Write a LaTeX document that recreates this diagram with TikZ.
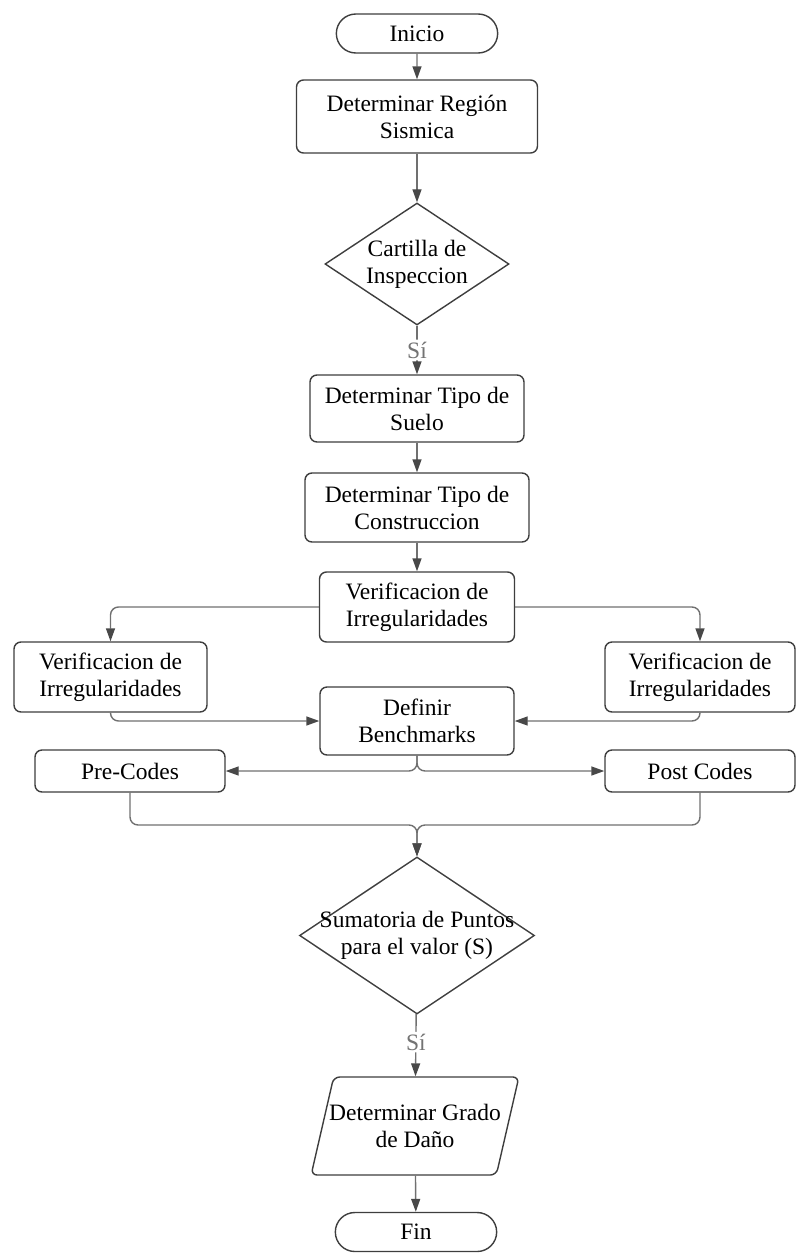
\documentclass[tikz,border=0pt]{standalone}
\usepackage{fontspec}
\setmainfont{Liberation Serif}
\usetikzlibrary{
  arrows.meta,
  positioning,
  shapes.geometric,
  shapes.misc
}
\definecolor{boxStroke}{RGB}{62,62,62}
\definecolor{lineGray}{RGB}{112,112,112}
\definecolor{headGray}{RGB}{72,72,72}
\colorlet{labelGray}{black!55}
\tikzset{
  arrow/.style={draw=lineGray, line width=1.4pt, rounded corners=8pt,
    -{Triangle[length=13pt,width=9pt,color=headGray]}},
  flowtext/.style={font=\fontsize{23.5}{27}\selectfont, align=center},
  terminal/.style={
    rounded rectangle,
    draw=boxStroke,
    fill=white,
    line width=1.4pt,
    minimum width=168pt,
    minimum height=39pt,
    flowtext
  },
  stepbox/.style={
    draw=boxStroke,
    fill=white,
    rounded corners=7pt,
    line width=1.4pt,
    inner sep=4pt,
    flowtext
  },
  decision/.style={
    diamond,
    draw=boxStroke,
    fill=white,
    line width=1.4pt,
    inner sep=0pt
  },
  iobox/.style={
    trapezium,
    trapezium left angle=77,
    trapezium right angle=103,
    draw=boxStroke,
    fill=white,
    rounded corners=6pt,
    line width=1.4pt,
    inner xsep=-13pt,
    inner ysep=22pt,
    flowtext
  },
  inside/.style={flowtext, inner sep=0pt},
  yes label/.style={font=\fontsize{23.5}{27}\selectfont, text=labelGray, fill=white, inner sep=2pt}
}

\begin{document}
\begin{tikzpicture}[x=1pt,y=-1pt]
  \useasboundingbox (0,0) rectangle (803,1253);

  \node[terminal] (inicio) at (417,33.5) {Inicio};
  \node[stepbox, minimum width=241pt, minimum height=73pt] (region) at (417,116.5) {Determinar Región\\Sismica};
  \node[decision, minimum width=184pt, minimum height=122pt,
    label={[inside]center:{Cartilla de\\Inspeccion}}] (cartilla) at (417,264) {};
  \node[stepbox, minimum width=214pt, minimum height=67pt] (suelo) at (417,408.5) {Determinar Tipo de\\Suelo};
  \node[stepbox, minimum width=224pt, minimum height=69pt] (construccion) at (417,507.5) {Determinar Tipo de\\Construccion};
  \node[stepbox, minimum width=195pt, minimum height=70pt] (verif) at (417,607) {Verificacion de\\Irregularidades};

  % ramas laterales
  \node[stepbox, minimum width=193pt, minimum height=70pt] (verifL) at (110.5,677) {Verificacion de\\Irregularidades};
  \node[stepbox, minimum width=190pt, minimum height=70pt] (verifR) at (700,677) {Verificacion de\\Irregularidades};
  \node[stepbox, minimum width=194pt, minimum height=68pt] (bench) at (417,721) {Definir\\Benchmarks};
  \node[stepbox, minimum width=190pt, minimum height=42pt] (pre) at (130,771) {Pre-Codes};
  \node[stepbox, minimum width=190pt, minimum height=42pt] (post) at (700,771) {Post Codes};
  \coordinate (join) at (417,825);

  \node[decision, minimum width=235pt, minimum height=157pt,
    label={[inside]center:{Sumatoria de Puntos\\para el valor (S)}}] (suma) at (417,935.5) {};
  \node[iobox, minimum height=98pt] (grado) at (415,1126) {Determinar Grado\\de Daño};
  \node[terminal] (fin) at (416,1232) {Fin};

  \draw[arrow] (inicio) -- (region);
  \draw[arrow] (region) -- (cartilla);
  \draw[arrow] (cartilla) -- node[yes label] {Sí} (suelo);
  \draw[arrow] (suelo) -- (construccion);
  \draw[arrow] (construccion) -- (verif);
  \draw[arrow] (verif.west) -| (verifL.north);
  \draw[arrow] (verif.east) -| (verifR.north);
  \draw[arrow] (verifL.south) |- (bench.west);
  \draw[arrow] (verifR.south) |- (bench.east);
  \draw[arrow] (bench.south) |- (pre.east);
  \draw[arrow] (bench.south) |- (post.west);
  \draw[arrow] (pre.south) |- (join) -- (suma.north);
  \draw[arrow] (post.south) |- (join) -- (suma.north);
  \draw[arrow] (suma) -- node[yes label, pos=0.45] {Sí} (grado);
  \draw[arrow] (grado) -- (fin);
\end{tikzpicture}
\end{document}
